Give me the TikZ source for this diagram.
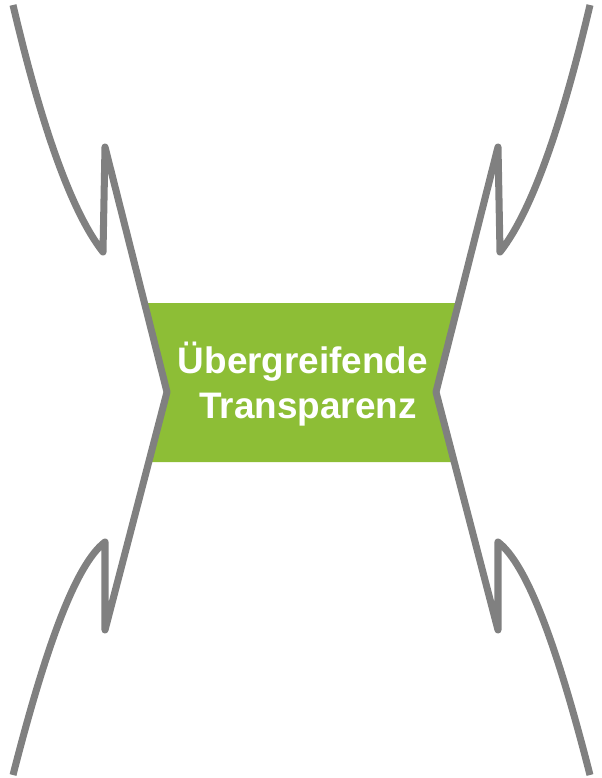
\documentclass[tikz,border=0pt]{standalone}
\usepackage{fontspec}
\setmainfont{Liberation Sans}
\usepackage{tikz}
\definecolor{lgreen}{RGB}{141,190,54}
\definecolor{lgray}{RGB}{128,128,128}

\begin{document}
\begin{tikzpicture}[x=0.02cm,y=-0.02cm,
  edge/.style={draw=lgray,line width=4pt,line join=round},
  title/.style={text=white,font=\bfseries\fontsize{21}{25}\selectfont,inner sep=0pt,anchor=base}]
\useasboundingbox (0,0) rectangle (602,778);
\fill[lgreen] (144,303) -- (458,303) -- (436,392) -- (454,462) -- (149,462) -- (167,392) -- cycle;
\draw[edge] (13,5) .. controls (40,120) and (70,210) .. (103,252) -- (105,147) -- (167,392) -- (105,630) -- (105,542) .. controls (75,565) and (45,650) .. (13,775);
\draw[edge] (590,5) .. controls (563,120) and (533,210) .. (500,252) -- (498,147) -- (436,392) -- (498,630) -- (498,542) .. controls (528,565) and (558,650) .. (590,775);
\node[title] (upper) at (303,373) {Übergreifende};
\node[title] (lower) at (308,418) {Transparenz};
\end{tikzpicture}
\end{document}
